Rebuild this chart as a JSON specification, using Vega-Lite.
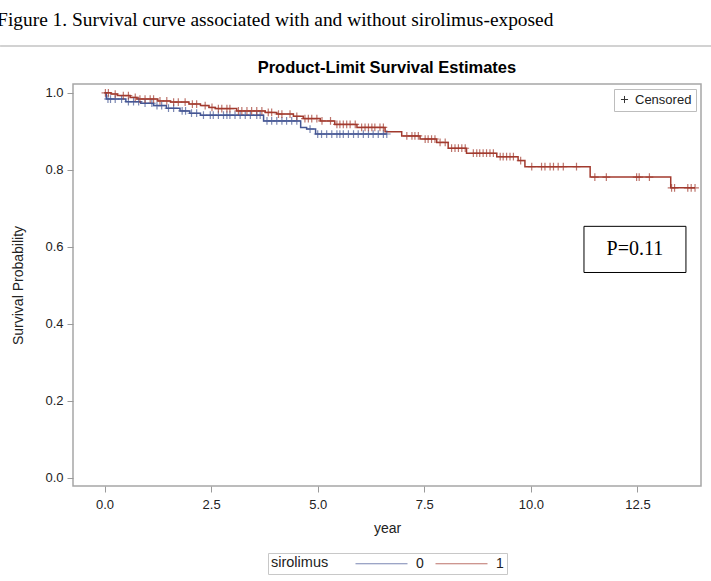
{
  "$schema": "https://vega.github.io/schema/vega-lite/v6.json",
  "width": 628,
  "height": 402,
  "autosize": {"type": "none"},
  "padding": {"left": 73, "top": 84, "right": 10, "bottom": 95},
  "background": "white",
  "config": {
    "font": "Liberation Sans",
    "view": {"stroke": "#a6a6a6", "strokeWidth": 1.5},
    "axis": {"domain": false, "grid": false, "tickColor": "#9a9a9a", "tickSize": 6, "labelFont": "Liberation Sans", "labelFontSize": 13, "labelColor": "#222222", "titleFont": "Liberation Sans", "titleFontSize": 14, "titleFontWeight": "normal", "titleColor": "#222222"}
  },
  "data": {"values": [
    {"g":"0","t":0,"s":1.0,"c":0},
    {"g":"0","t":0.04,"s":0.984,"c":0},
    {"g":"0","t":0.08,"s":0.984,"c":1},
    {"g":"0","t":0.14,"s":0.984,"c":1},
    {"g":"0","t":0.25,"s":0.984,"c":1},
    {"g":"0","t":0.40,"s":0.984,"c":1},
    {"g":"0","t":0.5,"s":0.977,"c":0},
    {"g":"0","t":0.56,"s":0.977,"c":1},
    {"g":"0","t":0.68,"s":0.977,"c":1},
    {"g":"0","t":0.80,"s":0.977,"c":1},
    {"g":"0","t":0.85,"s":0.973,"c":0},
    {"g":"0","t":0.95,"s":0.973,"c":1},
    {"g":"0","t":1.11,"s":0.973,"c":1},
    {"g":"0","t":1.15,"s":0.967,"c":0},
    {"g":"0","t":1.23,"s":0.967,"c":1},
    {"g":"0","t":1.34,"s":0.967,"c":1},
    {"g":"0","t":1.45,"s":0.960,"c":0},
    {"g":"0","t":1.50,"s":0.960,"c":1},
    {"g":"0","t":1.62,"s":0.960,"c":1},
    {"g":"0","t":1.77,"s":0.953,"c":0},
    {"g":"0","t":1.82,"s":0.953,"c":1},
    {"g":"0","t":1.90,"s":0.953,"c":1},
    {"g":"0","t":2.0,"s":0.947,"c":0},
    {"g":"0","t":2.04,"s":0.947,"c":1},
    {"g":"0","t":2.16,"s":0.947,"c":1},
    {"g":"0","t":2.25,"s":0.942,"c":0},
    {"g":"0","t":2.32,"s":0.942,"c":1},
    {"g":"0","t":2.48,"s":0.942,"c":1},
    {"g":"0","t":2.55,"s":0.942,"c":1},
    {"g":"0","t":2.67,"s":0.942,"c":1},
    {"g":"0","t":2.79,"s":0.942,"c":1},
    {"g":"0","t":2.87,"s":0.942,"c":1},
    {"g":"0","t":2.94,"s":0.942,"c":1},
    {"g":"0","t":3.06,"s":0.942,"c":1},
    {"g":"0","t":3.18,"s":0.942,"c":1},
    {"g":"0","t":3.30,"s":0.942,"c":1},
    {"g":"0","t":3.42,"s":0.942,"c":1},
    {"g":"0","t":3.57,"s":0.942,"c":1},
    {"g":"0","t":3.65,"s":0.942,"c":1},
    {"g":"0","t":3.73,"s":0.927,"c":0},
    {"g":"0","t":3.81,"s":0.927,"c":1},
    {"g":"0","t":3.92,"s":0.927,"c":1},
    {"g":"0","t":4.04,"s":0.927,"c":1},
    {"g":"0","t":4.16,"s":0.927,"c":1},
    {"g":"0","t":4.27,"s":0.927,"c":1},
    {"g":"0","t":4.39,"s":0.927,"c":1},
    {"g":"0","t":4.51,"s":0.927,"c":1},
    {"g":"0","t":4.6,"s":0.910,"c":0},
    {"g":"0","t":4.74,"s":0.906,"c":0},
    {"g":"0","t":4.82,"s":0.906,"c":1},
    {"g":"0","t":4.95,"s":0.893,"c":0},
    {"g":"0","t":5.00,"s":0.893,"c":1},
    {"g":"0","t":5.09,"s":0.893,"c":1},
    {"g":"0","t":5.21,"s":0.893,"c":1},
    {"g":"0","t":5.33,"s":0.893,"c":1},
    {"g":"0","t":5.45,"s":0.893,"c":1},
    {"g":"0","t":5.52,"s":0.893,"c":1},
    {"g":"0","t":5.60,"s":0.893,"c":1},
    {"g":"0","t":5.72,"s":0.893,"c":1},
    {"g":"0","t":5.84,"s":0.893,"c":1},
    {"g":"0","t":5.95,"s":0.893,"c":1},
    {"g":"0","t":6.07,"s":0.893,"c":1},
    {"g":"0","t":6.19,"s":0.893,"c":1},
    {"g":"0","t":6.30,"s":0.893,"c":1},
    {"g":"0","t":6.42,"s":0.893,"c":1},
    {"g":"0","t":6.54,"s":0.893,"c":1},
    {"g":"0","t":6.62,"s":0.893,"c":1},
    {"g":"1","t":0,"s":1.0,"c":0},
    {"g":"1","t":0.02,"s":1.0,"c":1},
    {"g":"1","t":0.09,"s":1.0,"c":1},
    {"g":"1","t":0.15,"s":0.997,"c":0},
    {"g":"1","t":0.25,"s":0.997,"c":1},
    {"g":"1","t":0.3,"s":0.993,"c":0},
    {"g":"1","t":0.44,"s":0.993,"c":1},
    {"g":"1","t":0.56,"s":0.993,"c":1},
    {"g":"1","t":0.6,"s":0.988,"c":0},
    {"g":"1","t":0.72,"s":0.988,"c":1},
    {"g":"1","t":0.76,"s":0.984,"c":0},
    {"g":"1","t":0.83,"s":0.984,"c":1},
    {"g":"1","t":0.95,"s":0.984,"c":1},
    {"g":"1","t":1.07,"s":0.984,"c":1},
    {"g":"1","t":1.15,"s":0.984,"c":1},
    {"g":"1","t":1.25,"s":0.979,"c":0},
    {"g":"1","t":1.30,"s":0.979,"c":1},
    {"g":"1","t":1.46,"s":0.979,"c":1},
    {"g":"1","t":1.55,"s":0.976,"c":0},
    {"g":"1","t":1.62,"s":0.976,"c":1},
    {"g":"1","t":1.73,"s":0.976,"c":1},
    {"g":"1","t":1.89,"s":0.976,"c":1},
    {"g":"1","t":1.98,"s":0.971,"c":0},
    {"g":"1","t":2.06,"s":0.971,"c":1},
    {"g":"1","t":2.16,"s":0.971,"c":1},
    {"g":"1","t":2.25,"s":0.967,"c":0},
    {"g":"1","t":2.36,"s":0.967,"c":1},
    {"g":"1","t":2.45,"s":0.962,"c":0},
    {"g":"1","t":2.52,"s":0.962,"c":1},
    {"g":"1","t":2.6,"s":0.959,"c":0},
    {"g":"1","t":2.67,"s":0.959,"c":1},
    {"g":"1","t":2.75,"s":0.959,"c":1},
    {"g":"1","t":2.87,"s":0.959,"c":1},
    {"g":"1","t":2.94,"s":0.959,"c":1},
    {"g":"1","t":3.1,"s":0.953,"c":0},
    {"g":"1","t":3.14,"s":0.953,"c":1},
    {"g":"1","t":3.22,"s":0.953,"c":1},
    {"g":"1","t":3.34,"s":0.953,"c":1},
    {"g":"1","t":3.45,"s":0.953,"c":1},
    {"g":"1","t":3.57,"s":0.953,"c":1},
    {"g":"1","t":3.69,"s":0.953,"c":1},
    {"g":"1","t":3.77,"s":0.949,"c":0},
    {"g":"1","t":3.84,"s":0.949,"c":1},
    {"g":"1","t":3.92,"s":0.949,"c":1},
    {"g":"1","t":4.04,"s":0.945,"c":0},
    {"g":"1","t":4.08,"s":0.945,"c":1},
    {"g":"1","t":4.16,"s":0.945,"c":1},
    {"g":"1","t":4.35,"s":0.945,"c":1},
    {"g":"1","t":4.43,"s":0.939,"c":0},
    {"g":"1","t":4.51,"s":0.939,"c":1},
    {"g":"1","t":4.66,"s":0.933,"c":0},
    {"g":"1","t":4.70,"s":0.933,"c":1},
    {"g":"1","t":4.78,"s":0.933,"c":1},
    {"g":"1","t":4.86,"s":0.933,"c":1},
    {"g":"1","t":4.98,"s":0.933,"c":1},
    {"g":"1","t":5.06,"s":0.927,"c":0},
    {"g":"1","t":5.10,"s":0.927,"c":1},
    {"g":"1","t":5.30,"s":0.927,"c":1},
    {"g":"1","t":5.4,"s":0.918,"c":0},
    {"g":"1","t":5.45,"s":0.918,"c":1},
    {"g":"1","t":5.52,"s":0.918,"c":1},
    {"g":"1","t":5.60,"s":0.918,"c":1},
    {"g":"1","t":5.68,"s":0.918,"c":1},
    {"g":"1","t":5.76,"s":0.918,"c":1},
    {"g":"1","t":5.88,"s":0.918,"c":1},
    {"g":"1","t":5.92,"s":0.910,"c":0},
    {"g":"1","t":6.03,"s":0.910,"c":1},
    {"g":"1","t":6.11,"s":0.910,"c":1},
    {"g":"1","t":6.19,"s":0.910,"c":1},
    {"g":"1","t":6.27,"s":0.910,"c":1},
    {"g":"1","t":6.34,"s":0.910,"c":1},
    {"g":"1","t":6.46,"s":0.910,"c":1},
    {"g":"1","t":6.54,"s":0.910,"c":1},
    {"g":"1","t":6.58,"s":0.899,"c":0},
    {"g":"1","t":6.97,"s":0.888,"c":0},
    {"g":"1","t":7.09,"s":0.888,"c":1},
    {"g":"1","t":7.21,"s":0.888,"c":1},
    {"g":"1","t":7.28,"s":0.888,"c":1},
    {"g":"1","t":7.36,"s":0.888,"c":1},
    {"g":"1","t":7.40,"s":0.880,"c":0},
    {"g":"1","t":7.52,"s":0.880,"c":1},
    {"g":"1","t":7.59,"s":0.880,"c":1},
    {"g":"1","t":7.67,"s":0.880,"c":1},
    {"g":"1","t":7.75,"s":0.880,"c":1},
    {"g":"1","t":7.79,"s":0.871,"c":0},
    {"g":"1","t":7.87,"s":0.871,"c":1},
    {"g":"1","t":7.99,"s":0.871,"c":1},
    {"g":"1","t":8.06,"s":0.856,"c":0},
    {"g":"1","t":8.14,"s":0.856,"c":1},
    {"g":"1","t":8.22,"s":0.856,"c":1},
    {"g":"1","t":8.30,"s":0.856,"c":1},
    {"g":"1","t":8.38,"s":0.856,"c":1},
    {"g":"1","t":8.46,"s":0.856,"c":1},
    {"g":"1","t":8.49,"s":0.843,"c":0},
    {"g":"1","t":8.65,"s":0.843,"c":1},
    {"g":"1","t":8.73,"s":0.843,"c":1},
    {"g":"1","t":8.80,"s":0.843,"c":1},
    {"g":"1","t":8.88,"s":0.843,"c":1},
    {"g":"1","t":8.96,"s":0.843,"c":1},
    {"g":"1","t":9.04,"s":0.843,"c":1},
    {"g":"1","t":9.12,"s":0.843,"c":1},
    {"g":"1","t":9.2,"s":0.834,"c":0},
    {"g":"1","t":9.28,"s":0.834,"c":1},
    {"g":"1","t":9.35,"s":0.834,"c":1},
    {"g":"1","t":9.43,"s":0.834,"c":1},
    {"g":"1","t":9.51,"s":0.834,"c":1},
    {"g":"1","t":9.59,"s":0.834,"c":1},
    {"g":"1","t":9.7,"s":0.824,"c":0},
    {"g":"1","t":9.76,"s":0.824,"c":1},
    {"g":"1","t":9.86,"s":0.808,"c":0},
    {"g":"1","t":10.02,"s":0.808,"c":1},
    {"g":"1","t":10.25,"s":0.808,"c":1},
    {"g":"1","t":10.33,"s":0.808,"c":1},
    {"g":"1","t":10.45,"s":0.808,"c":1},
    {"g":"1","t":10.53,"s":0.808,"c":1},
    {"g":"1","t":10.64,"s":0.808,"c":1},
    {"g":"1","t":10.76,"s":0.808,"c":1},
    {"g":"1","t":11.07,"s":0.808,"c":1},
    {"g":"1","t":11.39,"s":0.781,"c":0},
    {"g":"1","t":11.50,"s":0.781,"c":1},
    {"g":"1","t":11.77,"s":0.781,"c":1},
    {"g":"1","t":12.48,"s":0.781,"c":1},
    {"g":"1","t":12.54,"s":0.781,"c":1},
    {"g":"1","t":12.78,"s":0.781,"c":1},
    {"g":"1","t":13.28,"s":0.753,"c":0},
    {"g":"1","t":13.30,"s":0.753,"c":1},
    {"g":"1","t":13.37,"s":0.753,"c":1},
    {"g":"1","t":13.68,"s":0.753,"c":1},
    {"g":"1","t":13.76,"s":0.753,"c":1},
    {"g":"1","t":13.85,"s":0.753,"c":1}
  ]},
  "layer": [
    {
      "data": {"values": [{}]},
      "mark": {"type": "rule", "color": "#d2d2d2", "strokeWidth": 2},
      "encoding": {
        "x": {"datum": -2.45, "type": "quantitative"},
        "x2": {"datum": 14.25},
        "y": {"datum": 1.1216, "type": "quantitative"}
      }
    },
    {
      "data": {"values": [{}]},
      "mark": {"type": "text", "text": "Figure 1. Survival curve associated with and without sirolimus-exposed", "font": "Liberation Serif", "fontSize": 19.4, "align": "left", "baseline": "alphabetic", "color": "#000000"},
      "encoding": {
        "x": {"datum": -2.52, "type": "quantitative"},
        "y": {"datum": 1.1735, "type": "quantitative"}
      }
    },
    {
      "data": {"values": [{}]},
      "mark": {"type": "text", "text": "Product-Limit Survival Estimates", "font": "Liberation Sans", "fontSize": 16.5, "fontWeight": "bold", "align": "center", "baseline": "middle", "color": "#000000"},
      "encoding": {
        "x": {"datum": 6.623, "type": "quantitative"},
        "y": {"datum": 1.0643, "type": "quantitative"}
      }
    },
    {
      "data": {"values": [{}]},
      "mark": {"type": "rect", "fill": "white", "stroke": "#000000", "strokeWidth": 1},
      "encoding": {
        "x": {"datum": 11.245, "type": "quantitative"},
        "x2": {"datum": 13.637},
        "y": {"datum": 0.653, "type": "quantitative"},
        "y2": {"datum": 0.533}
      }
    },
    {
      "data": {"values": [{}]},
      "mark": {"type": "text", "text": "P=0.11", "font": "Liberation Serif", "fontSize": 20, "align": "center", "baseline": "middle", "color": "#000000"},
      "encoding": {
        "x": {"datum": 12.44, "type": "quantitative"},
        "y": {"datum": 0.593, "type": "quantitative"}
      }
    },
    {
      "mark": {"type": "line", "interpolate": "step-after", "strokeWidth": 1.5},
      "encoding": {
        "x": {"field": "t", "type": "quantitative", "scale": {"domain": [-0.74, 13.99], "nice": false, "zero": false},
              "axis": {"title": "year", "values": [0, 2.5, 5, 7.5, 10, 12.5], "format": ".1f", "labelPadding": 6, "titlePadding": 10}},
        "y": {"field": "s", "type": "quantitative", "scale": {"domain": [-0.022, 1.023], "nice": false, "zero": false},
              "axis": {"title": "Survival Probability", "values": [0, 0.2, 0.4, 0.6, 0.8, 1.0], "format": ".1f", "labelPadding": 4, "titlePadding": 19}},
        "color": {"field": "g", "type": "nominal", "scale": {"domain": ["0", "1"], "range": ["#445694", "#A23A2E"]},
                  "legend": {"orient": "none", "legendX": 195, "legendY": 469, "direction": "horizontal", "title": "sirolimus", "titleOrient": "left", "titleFont": "Liberation Sans", "titleFontSize": 14.5, "titleFontWeight": "normal", "titleColor": "#222222", "titlePadding": 45, "labelFont": "Liberation Sans", "labelFontSize": 14, "labelColor": "#222222", "labelOffset": 27, "symbolType": "M-4,0H4", "symbolSize": 169, "symbolStrokeWidth": 1.2, "symbolOpacity": 1, "symbolFillColor": "transparent", "strokeColor": "#c8c8c8", "fillColor": "white", "padding": 3, "columnPadding": 9}}
      }
    },
    {
      "transform": [{"filter": "datum.c == 1"}],
      "mark": {"type": "point", "filled": false, "size": 60, "strokeWidth": 1.2, "opacity": 0.7},
      "encoding": {
        "x": {"field": "t", "type": "quantitative"},
        "y": {"field": "s", "type": "quantitative"},
        "color": {"field": "g", "type": "nominal"},
        "shape": {"datum": "Censored", "scale": {"domain": ["Censored"], "range": ["M0,-1V1M-1,0H1"]},
                  "legend": {"orient": "none", "legendX": 541, "legendY": 5, "title": null, "labelFont": "Liberation Sans", "labelFontSize": 13, "labelColor": "#222222", "labelOffset": 4, "symbolStrokeColor": "#333333", "symbolFillColor": "transparent", "symbolSize": 50, "symbolStrokeWidth": 1, "symbolOpacity": 1, "strokeColor": "#bdbdbd", "fillColor": "white", "padding": 4}}
      }
    }
  ]
}
